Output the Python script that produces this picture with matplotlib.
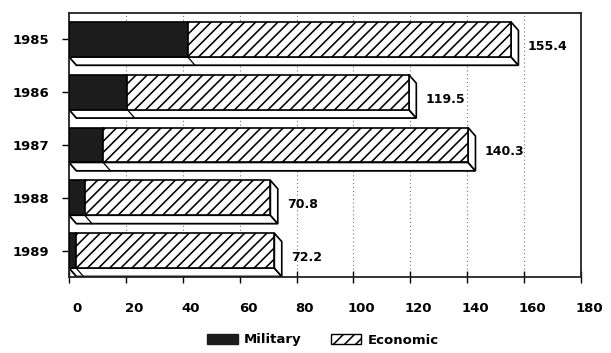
import matplotlib
matplotlib.use("Agg")
import matplotlib.pyplot as plt
import matplotlib.transforms as mtransforms
from matplotlib.patches import Polygon, Patch

# Aid totals by year (millions of dollars), split into military and economic
years = ["1985", "1986", "1987", "1988", "1989"]
totals = [155.4, 119.5, 140.3, 70.8, 72.2]
military = [41.7, 20.5, 12.0, 5.5, 2.5]
economic = [t - m for t, m in zip(totals, military)]
x_ticks = [0, 20, 40, 60, 80, 100, 120, 140, 160, 180]

plt.rcParams["font.family"] = "DejaVu Sans"
plt.rcParams["font.weight"] = "bold"
plt.rcParams["hatch.linewidth"] = 1.15

dark = "#1c1c1c"
bar_h = 0.66      # height of the front face
dx, dy = 2.6, 0.16  # depth offset of the box (x in data units, y in slots)

fig = plt.figure(figsize=(6.11, 3.53), dpi=100)
ax = fig.add_axes([69 / 611, 1 - 277 / 353, 512 / 611, 264 / 353])

pos = list(range(len(years)))

for i, (tot, mil) in enumerate(zip(totals, military)):
    top = i - bar_h / 2
    bot = i + bar_h / 2
    # floor of the box, seen from below
    ax.add_patch(Polygon([(0, bot), (tot, bot), (tot + dx, bot + dy), (dx, bot + dy)],
                         closed=True, facecolor="white", edgecolor="black",
                         linewidth=1.3, zorder=2))
    ax.plot([mil, mil + dx], [bot, bot + dy], color="black", linewidth=0.9, zorder=2.5)
    # right-hand end of the box
    ax.add_patch(Polygon([(tot, top), (tot + dx, top + dy), (tot + dx, bot + dy), (tot, bot)],
                         closed=True, facecolor="white", edgecolor="black",
                         linewidth=1.2, zorder=2))

# front faces
ax.barh(pos, military, height=bar_h, color=dark, edgecolor="black",
        linewidth=1.2, zorder=3)
ax.barh(pos, economic, left=military, height=bar_h, color="white",
        edgecolor="black", hatch="///", linewidth=1.2, zorder=3)

# value labels beside each box
for i, tot in enumerate(totals):
    ax.text(tot + dx + 3.3, i + dy / 2 + 0.05, f"{tot:.1f}", ha="left", va="center",
            fontsize=9, fontweight="bold", zorder=4)

ax.set_xlim(0, 180)
ax.set_ylim(len(years) - 0.5, -0.5)
ax.set_yticks(pos)
ax.set_yticklabels(years, fontsize=9.5, fontweight="bold")
ax.set_xticks(x_ticks)
ax.set_xticklabels([str(v) for v in x_ticks], fontsize=9.5, fontweight="bold")

ax.tick_params(axis="y", direction="out", length=5, width=1.0, pad=9)
ax.tick_params(axis="x", direction="inout", length=8, width=1.0, pad=14)
shift = mtransforms.ScaledTranslation(6 / 72, 0, fig.dpi_scale_trans)
for lbl in ax.get_xticklabels():
    lbl.set_transform(lbl.get_transform() + shift)

ax.xaxis.grid(True, linestyle=(0, (1, 2.5)), color="#777777", linewidth=0.8, zorder=0)
ax.set_axisbelow(True)
for sp in ax.spines.values():
    sp.set_linewidth(1.3)
    sp.set_color("#222222")

handles = [Patch(facecolor=dark, edgecolor=dark, label="Military"),
           Patch(facecolor="white", edgecolor="black", hatch="///", label="Economic")]
fig.legend(handles=handles, loc="center", bbox_to_anchor=(323 / 611, 1 - 340 / 353),
           ncol=2, frameon=False, handlelength=2.3, handleheight=0.8,
           columnspacing=2.2, handletextpad=0.5, prop={"weight": "bold", "size": 9.5})

fig.savefig("out.png", dpi=100)
